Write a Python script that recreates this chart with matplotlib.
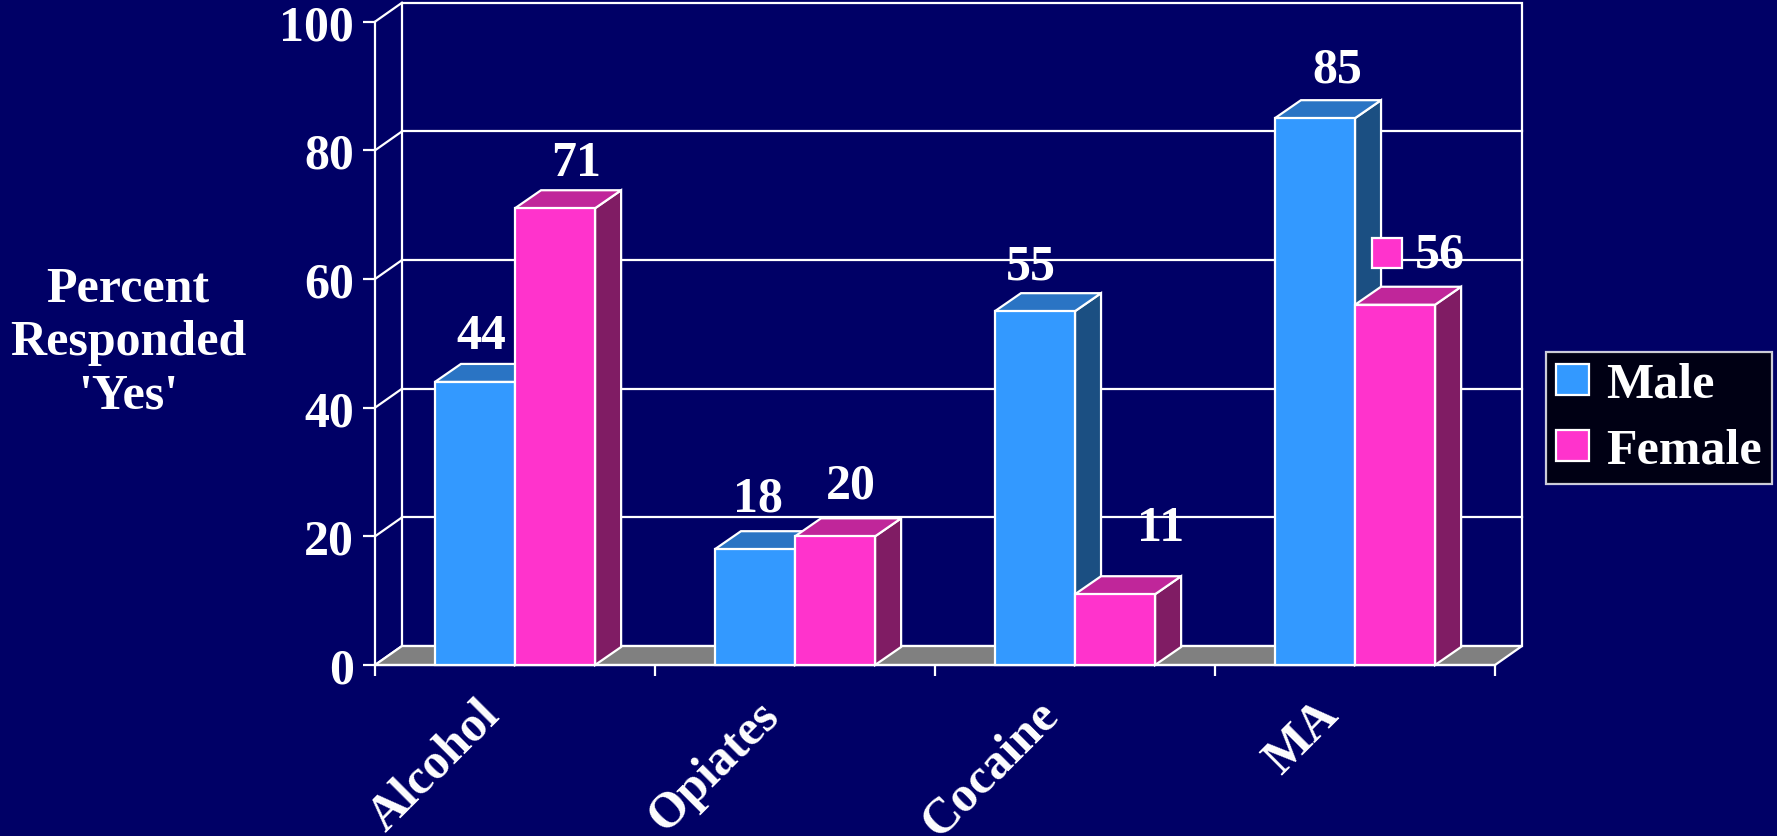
import matplotlib
matplotlib.use('Agg')
import matplotlib.pyplot as plt
from matplotlib.patches import Polygon, Rectangle
from matplotlib.transforms import offset_copy, ScaledTranslation
import numpy as np

# ---------------- data ----------------
categories = ['Alcohol', 'Opiates', 'Cocaine', 'MA']
series_names = ['Male', 'Female']
male = [44, 18, 55, 85]
female = [71, 20, 11, 56]
yticks = [0, 20, 40, 60, 80, 100]
ylabel = "Percent\nResponded\n'Yes'"

# ---------------- style ----------------
BG = '#000066'
FRONT = ['#3399FF', '#FF33CC']
TOP = ['#2A74C4', '#C0269A']
SIDE = ['#1B4F82', '#801C64']
EDGE = 'white'
FLOOR = '#808080'
FONT = dict(family='Liberation Serif', weight='bold', size=36)
LW = 1.6

W, H = 1777, 837
WDX, WDY = 0.0964, 2.95      # wall depth (category units, value units)
BDX, BDY = 0.093, 2.8        # bar depth
BW = 0.286                   # bar width

# label nudges in pixels (x, y above back top edge)
label_nudge = [[(-7, 32), (-10, 37), (-17, 31), (9, 35)],
               [(8, 31), (3, 37), (33, 52), None]]

fig = plt.figure(figsize=(W / 100, H / 100), dpi=100, facecolor=BG)
ax = fig.add_axes([375 / W, 171 / H, 1120 / W, 643.3 / H])
ax.set_facecolor('none')
n = len(categories)
ax.set_xlim(0, n)
ax.set_ylim(0, 100)

# back wall
ax.add_patch(Rectangle((WDX, WDY), n, 100, fc='none', ec=EDGE, lw=LW,
                       clip_on=False, zorder=1))
for t in yticks[1:-1]:
    ax.plot([WDX, n + WDX], [t + WDY] * 2, color=EDGE, lw=LW,
            clip_on=False, zorder=1)
# left wall diagonals
for t in yticks:
    ax.plot([0, WDX], [t, t + WDY], color=EDGE, lw=LW, clip_on=False, zorder=1)
# floor
ax.add_patch(Polygon([(0, 0), (n, 0), (n + WDX, WDY), (WDX, WDY)],
                     closed=True, fc=FLOOR, ec=EDGE, lw=LW, clip_on=False,
                     zorder=1.5))

# bars
k = 0
for i in range(n):
    for s, vals in enumerate([male, female]):
        v = vals[i]
        x0 = i + 0.5 - BW + s * BW
        z = 3 + k * 0.1
        k += 1
        ax.add_patch(Polygon([(x0 + BW, 0), (x0 + BW + BDX, BDY),
                              (x0 + BW + BDX, v + BDY), (x0 + BW, v)],
                             closed=True, fc=SIDE[s], ec=EDGE, lw=LW,
                             clip_on=False, zorder=z))
        ax.add_patch(Polygon([(x0, v), (x0 + BW, v), (x0 + BW + BDX, v + BDY),
                              (x0 + BDX, v + BDY)],
                             closed=True, fc=TOP[s], ec=EDGE, lw=LW,
                             clip_on=False, zorder=z + 0.01))
        ax.add_patch(Rectangle((x0, 0), BW, v, fc=FRONT[s], ec=EDGE, lw=LW,
                               clip_on=False, zorder=z + 0.02))
        nud = label_nudge[s][i]
        if nud is not None:
            tr = offset_copy(ax.transData, fig=fig, x=nud[0], y=nud[1] - 16,
                             units='dots')
            ax.text(x0 + BW / 2 + BDX / 2, v + BDY, str(v), transform=tr,
                    ha='center', va='baseline', color='white', zorder=10,
                    **FONT)
        else:
            # label with legend key, moved by hand
            trk = offset_copy(ax.transData, fig=fig, x=32, y=52, units='dots')
            ax.plot([x0], [v], marker='s', ms=21.5, mfc=FRONT[s], mec=EDGE,
                    mew=LW, transform=trk, clip_on=False, zorder=10)
            trt = offset_copy(ax.transData, fig=fig, x=60, y=54 - 16,
                              units='dots')
            ax.text(x0, v, str(v), transform=trt, ha='left', va='baseline',
                    color='white', zorder=10, **FONT)

# axes styling
for sp in ['top', 'right']:
    ax.spines[sp].set_visible(False)
for sp in ['left', 'bottom']:
    ax.spines[sp].set_color(EDGE)
    ax.spines[sp].set_linewidth(LW)
    ax.spines[sp].set_zorder(2)
ax.set_yticks(yticks)
ax.set_yticklabels([str(t) for t in yticks], fontdict=FONT, color='white')
ax.tick_params(axis='y', length=8.6, width=LW, color=EDGE, pad=6.5)
ax.set_xticks(np.arange(n + 1))
ax.set_xticklabels([''] * (n + 1))
ax.tick_params(axis='x', which='major', length=8, width=LW, color=EDGE)
ax.set_xticks(np.arange(n) + 0.5, minor=True)
ax.set_xticklabels(categories, minor=True, fontdict=FONT, color='white',
                   rotation=45, ha='right', va='center', rotation_mode='anchor')
ax.tick_params(axis='x', which='minor', length=0, pad=37)
shift = ScaledTranslation(-23 / 100, 9 / 100, fig.dpi_scale_trans)
for lab in ax.get_xticklabels(minor=True):
    lab.set_transform(lab.get_transform() + shift)

fig.text(128 / W, 1 - 343 / H, ylabel, ha='center', va='center',
         multialignment='center', color='white', linespacing=1.22, **FONT)

handles = [Rectangle((0, 0), 1, 1, fc=FRONT[s], ec=EDGE, lw=LW) for s in range(2)]
leg = fig.legend(handles, series_names, loc='upper left',
                 bbox_to_anchor=(1546 / W, 1 - 353 / H), frameon=True,
                 facecolor='black', edgecolor=EDGE, fancybox=False,
                 prop=dict(family='Liberation Serif', weight='bold', size=36),
                 handlelength=0.66, handleheight=0.6, handletextpad=0.34,
                 labelspacing=0.4, borderpad=0.2, borderaxespad=0)
leg.get_frame().set_linewidth(LW)
for t in leg.get_texts():
    t.set_color('white')

fig.savefig('out.png', dpi=100, facecolor=BG)
